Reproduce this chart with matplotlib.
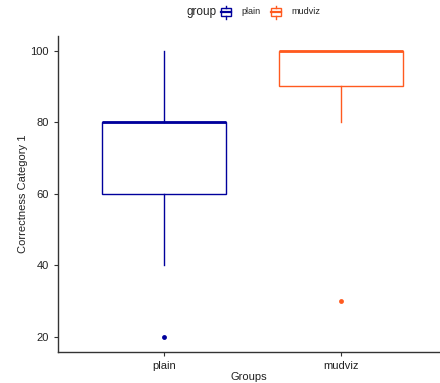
import matplotlib.pyplot as plt
from matplotlib.lines import Line2D
from matplotlib.patches import Rectangle

plt.rcParams["font.family"] = ["Liberation Sans", "DejaVu Sans"]

# valores
groups = ["plain", "mudviz"]
whisker_low = [40, 80]
box_low = [60, 90]
medians = [80, 100]
box_high = [80, 100]
whisker_high = [100, 100]
outliers = [20, 30]
colors = ["#00009C", "#FF5A1F"]

W, H = 440, 383
fig = plt.figure(figsize=(W / 100, H / 100), dpi=100)


def px(x, y):
    """pixel (origem no topo) -> coordenadas da figura"""
    return x / W, 1 - y / H


ax = fig.add_axes([58 / W, 31.3 / H, 1 - 58 / W, (351.7 - 36.4) / H])

box_w = 0.7
for i, g in enumerate(groups):
    pos = i + 1
    c = colors[i]
    ax.add_patch(Rectangle((pos - box_w / 2, box_low[i]), box_w,
                           box_high[i] - box_low[i], fill=False,
                           edgecolor=c, linewidth=1.0))
    ax.plot([pos - box_w / 2, pos + box_w / 2], [medians[i]] * 2,
            color=c, linewidth=2.0, solid_capstyle="butt")
    if whisker_low[i] < box_low[i]:
        ax.plot([pos, pos], [whisker_low[i], box_low[i]], color=c, linewidth=1.0)
    if whisker_high[i] > box_high[i]:
        ax.plot([pos, pos], [box_high[i], whisker_high[i]], color=c, linewidth=1.0)
    ax.plot(pos, outliers[i], "o", color=c, markersize=3.5, markeredgewidth=0)

ax.set_xlim(0.4, 0.4 + (W - 58) / 177)
ax.set_ylim(15.8, 104)
ax.set_xticks([1, 2])
ax.set_xticklabels(groups)
ax.set_yticks([20, 40, 60, 80, 100])
ax.tick_params(colors="#333333", labelsize=8, length=3, width=0.8)
ax.tick_params(labelcolor="#222222")
for s in ["top", "right"]:
    ax.spines[s].set_visible(False)
for s in ["left", "bottom"]:
    ax.spines[s].set_color("#333333")
    ax.spines[s].set_linewidth(1.0)

ax.set_xlabel("Groups", fontsize=8, color="#222222", labelpad=1)
ax.set_ylabel("Correctness Category 1", fontsize=8, color="#222222", labelpad=2)

# legenda no topo
fig.text(*px(186, 12), "group", fontsize=8.5, color="#222222", va="center", ha="left")
for x0, lab, c in [(221, "plain", colors[0]), (271, "mudviz", colors[1])]:
    bx, by = px(x0, 16)
    bw = 10 / W
    bh = 8 / H
    fig.patches.append(Rectangle((bx, by), bw, bh, fill=False, edgecolor=c,
                                 linewidth=1.0, transform=fig.transFigure))
    fig.lines.append(Line2D([bx, bx + bw], [by + bh / 2] * 2, color=c,
                            linewidth=1.6, transform=fig.transFigure))
    xm = bx + bw / 2
    fig.lines.append(Line2D([xm, xm], [by + bh, by + bh + 2.5 / H], color=c,
                            linewidth=1.0, transform=fig.transFigure))
    fig.lines.append(Line2D([xm, xm], [by, by - 2.5 / H], color=c,
                            linewidth=1.0, transform=fig.transFigure))
    fig.text(*px(x0 + 20, 12), lab, fontsize=6.5, color="#222222",
             va="center", ha="left")

fig.savefig("out.png", dpi=100)
